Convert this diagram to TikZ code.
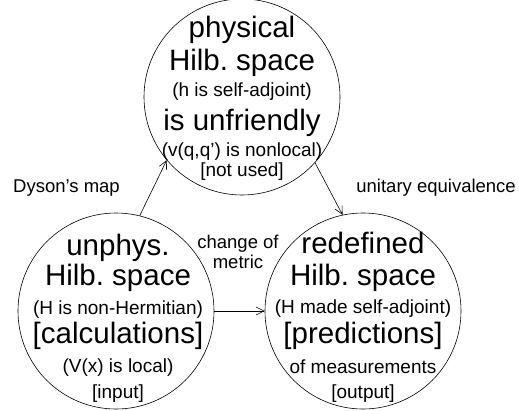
\documentclass[tikz,border=0pt]{standalone}
\usepackage{fontspec}
\setmainfont{Liberation Sans}
\frenchspacing
\usetikzlibrary{arrows.meta,positioning}

\begin{document}
\begin{tikzpicture}[x=1pt,y=1pt,
  space/.style={draw,circle,line width=0.6pt,minimum size=196pt,inner sep=0pt},
  big/.style={anchor=base,inner sep=0pt,font=\fontsize{29.5}{30}\selectfont},
  small/.style={anchor=base,inner sep=0pt,font=\fontsize{19}{20}\selectfont},
  lab/.style={inner sep=0pt,font=\fontsize{18.5}{20}\selectfont},
  arr/.style={-{Straight Barb[length=8pt,width=8pt]},line width=0.6pt}]
\useasboundingbox (0,0) rectangle (519,410);
% the three spaces
\node[space] (phys) at (242,313) {};
\node[space] (unphys) at (116,99) {};
\node[space] (redef) at (363,99) {};
% physical
\node[big] (p1) at (242,372) {physical};
\node[big] (p2) at (242,339.5) {Hilb. space};
\node[small] (p3) at (242,313) {(h is self-adjoint)};
\node[big] (p4) at (242,279.5) {is unfriendly};
\node[small] (p5) at (242,253) {(v(q,q') is nonlocal)};
\node[small] (p6) at (242,233) {[not used]};
% unphysical
\node[big] (u1) at (118,155) {unphys.};
\node[big] (u2) at (118,125) {Hilb. space};
\node[small] (u3) at (118,96) {(H is non-Hermitian)};
\node[big] (u4) at (118,67) {[calculations]};
\node[small] (u5) at (118,38) {(V(x) is local)};
\node[small] (u6) at (118,12) {[input]};
% redefined
\node[big] (r1) at (363,157) {redefined};
\node[big] (r2) at (363,125) {Hilb. space};
\node[small] (r3) at (363,97) {(H made self-adjoint)};
\node[big] (r4) at (363,67) {[predictions]};
\node[small] (r5) at (363,37) {of measurements};
\node[small] (r6) at (363,12) {[output]};
% maps between them
\draw[arr] (unphys.76) -- (phys.220);
\draw[arr] (phys.-42) -- (redef.102);
\draw[arr] (unphys.east) -- (redef.west);
\node[lab,anchor=base west] (dyson) at (13,217) {Dyson's map};
\node[lab,anchor=base east] (unitary) at (516,217) {unitary equivalence};
\node[lab,anchor=base] (change) at (238,162) {change of};
\node[lab,anchor=base] (metric) at (238,142) {metric};
\end{tikzpicture}
\end{document}
